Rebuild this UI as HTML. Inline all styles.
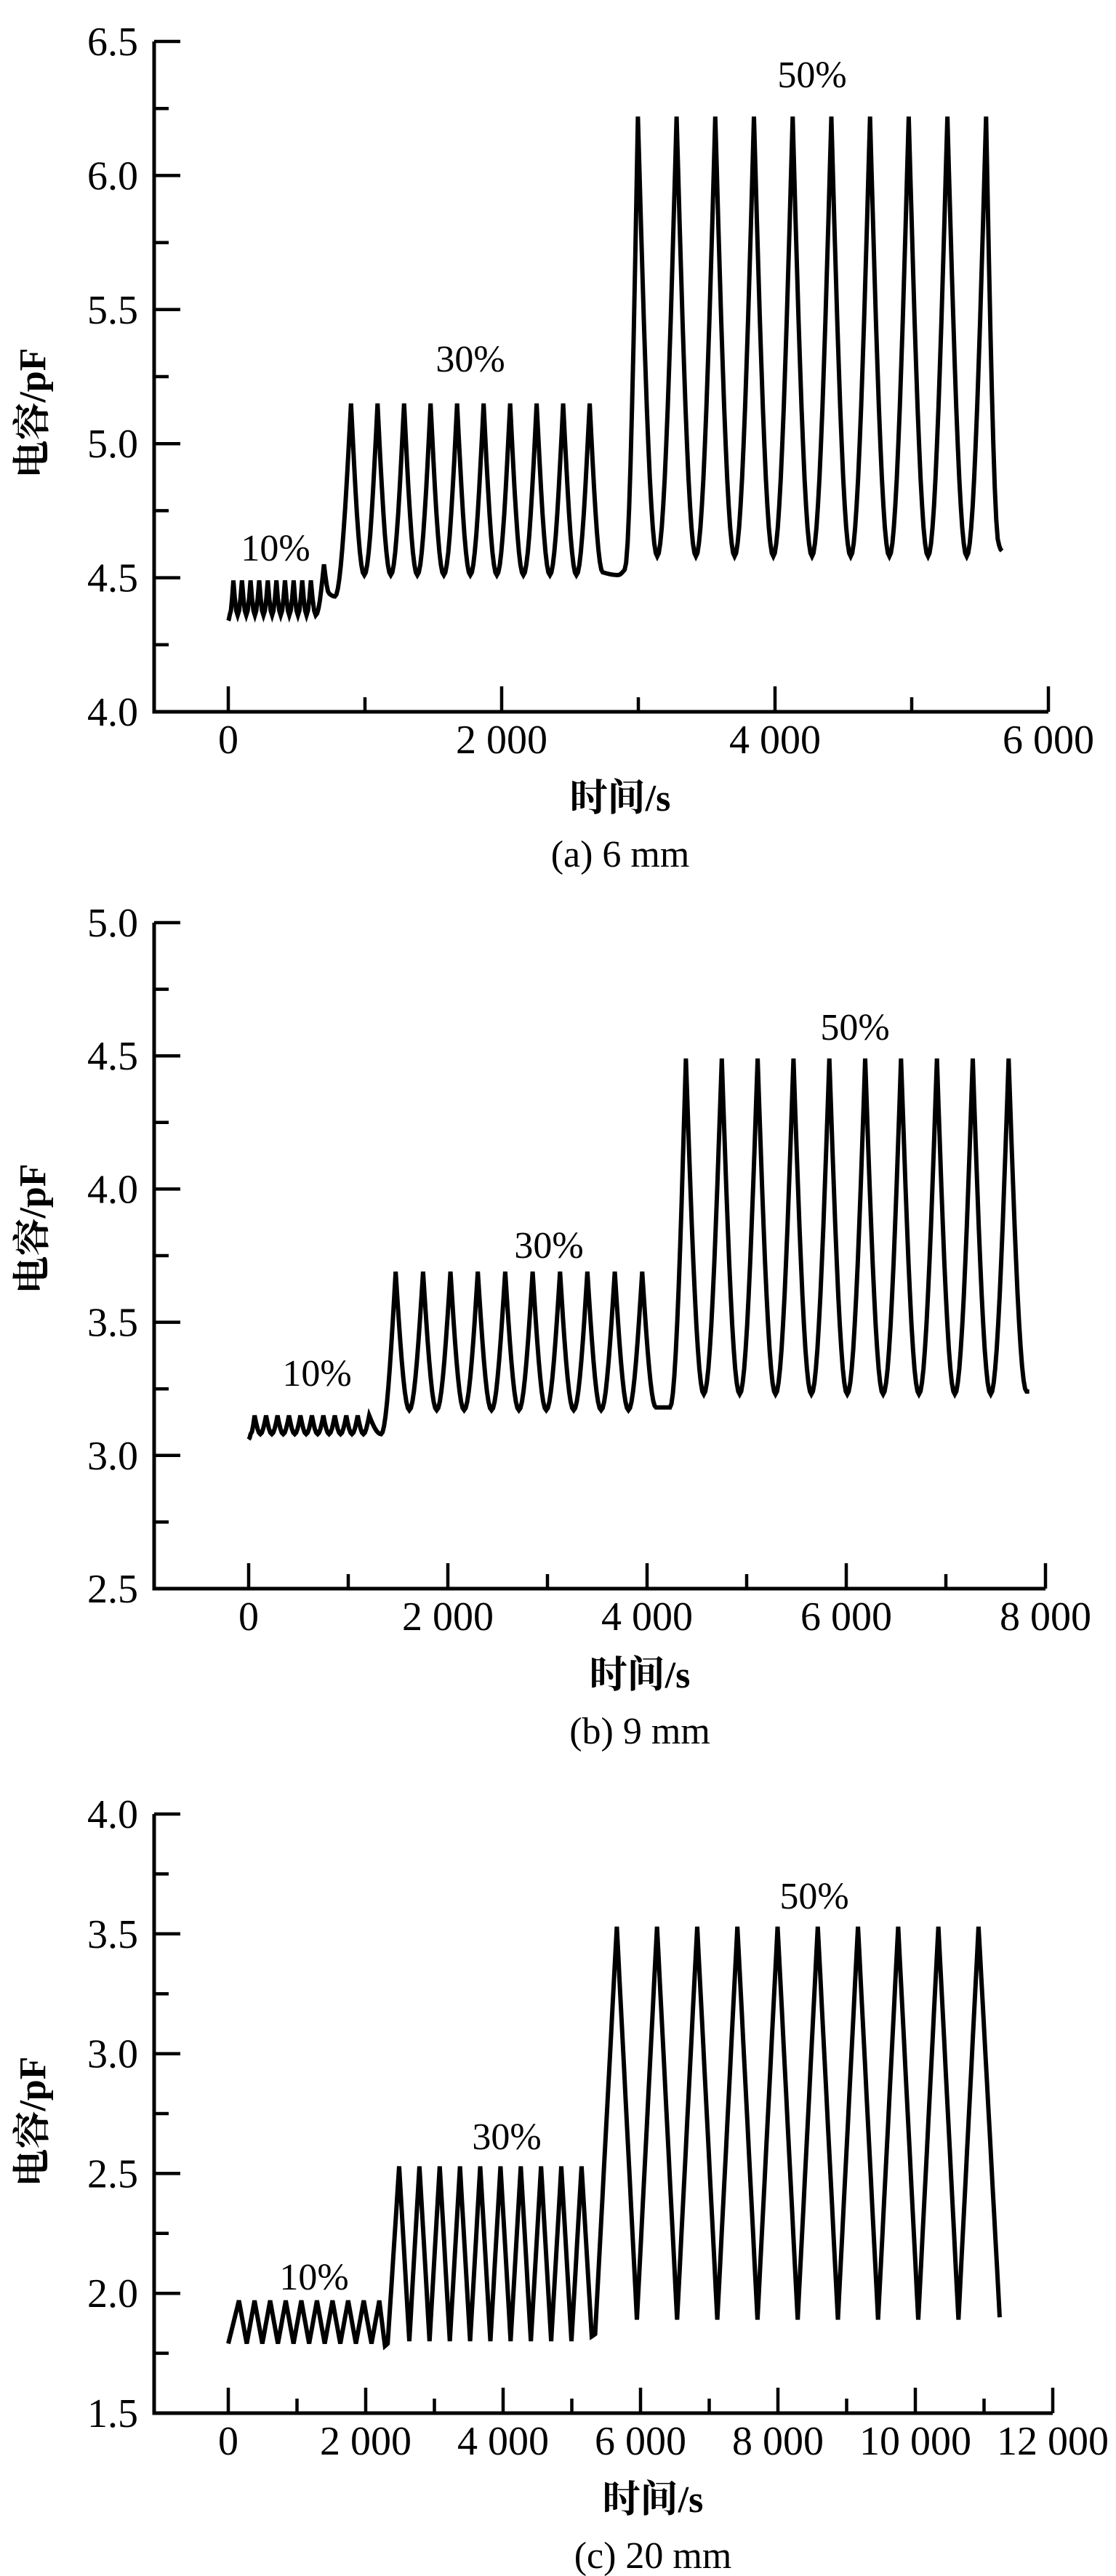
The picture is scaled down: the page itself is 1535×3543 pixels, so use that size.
<!DOCTYPE html>
<html><head><meta charset="utf-8">
<style>
html,body{margin:0;padding:0;background:#fff;}
svg{display:block;}
text{font-family:"Liberation Serif","Noto Serif CJK SC",serif;fill:#000;}
.cj{font-family:"Liberation Serif","Noto Serif CJK SC","Noto Sans CJK SC",serif;font-weight:bold;}
</style></head>
<body>
<svg id="s" width="1535" height="3543" viewBox="0 0 1535 3543" xmlns="http://www.w3.org/2000/svg"></svg>
<script>
var svg=document.getElementById('s');var out='';
function fmt(n){var s=String(n);if(n>=1000){var a=s.slice(0,s.length-3),b=s.slice(-3);return a+' '+b;}return s;}
function ease(s,p){return p==0?(1-Math.cos(s*Math.PI/2)):Math.pow(s,p);}
function panel(P){
  var X=function(t){return P.x0+t*P.xs/1000;};
  var Y=function(v){return P.yb-(v-P.ymin)*P.ys;};
  var L=212, B=P.yb, R=X(P.xmax), T=Y(P.ymaxv);
  out+='<path d="M'+L+' '+T+' L'+L+' '+B+' L'+R+' '+B+'" fill="none" stroke="#000" stroke-width="5"/>';
  for(var v=P.ymin;v<=P.ymaxv+1e-6;v+=0.25){
    var y=Y(v),maj=Math.abs(v*2-Math.round(v*2))<1e-6;
    out+='<line x1="'+L+'" y1="'+y+'" x2="'+(L+(maj?36:20))+'" y2="'+y+'" stroke="#000" stroke-width="4.5"/>';
    if(maj) out+='<text x="190" y="'+(y+19)+'" font-size="56" text-anchor="end">'+v.toFixed(1)+'</text>';
  }
  for(var t=0;t<=P.xmax;t+=1000){
    var x=X(t),maj=(t%2000==0);
    out+='<line x1="'+x+'" y1="'+B+'" x2="'+x+'" y2="'+(B-(maj?35:20))+'" stroke="#000" stroke-width="4.5"/>';
    if(maj) out+='<text x="'+x+'" y="'+(B+57)+'" font-size="56" text-anchor="middle">'+fmt(t)+'</text>';
  }
  var V=P.v,d='M'+X(V[0][0]).toFixed(1)+' '+Y(V[0][1]).toFixed(1);
  for(var i=1;i<V.length;i++){
    var a=V[i-1],b=V[i];var n=Math.max(2,Math.round((X(b[0])-X(a[0]))/2));
    for(var k=1;k<=n;k++){var s=k/n,v;
      if(b[1]>a[1]) v=a[1]+(b[1]-a[1])*ease(s,P.p);
      else v=b[1]+(a[1]-b[1])*ease(1-s,P.p);
      d+=' L'+X(a[0]+(b[0]-a[0])*s).toFixed(1)+' '+Y(v).toFixed(1);}
  }
  out+='<path d="'+d+'" fill="none" stroke="#000" stroke-width="6" stroke-linejoin="miter"/>';
  P.ann.forEach(function(a){out+='<text x="'+a[0]+'" y="'+a[1]+'" font-size="52" text-anchor="middle">'+a[2]+'</text>';});
  out+='<text class="cj" transform="translate('+P.ylx+','+P.yly+') rotate(-90)" font-size="52" text-anchor="middle">电容/pF</text>';
  out+='<text class="cj" x="'+P.xlx+'" y="'+(B+136)+'" font-size="52" text-anchor="middle">时间/s</text>';
  out+='<text x="'+P.xlx+'" y="'+(B+213)+'" font-size="52" text-anchor="middle">'+P.cap+'</text>';
}
function osc(v,peaks,hi,lo){peaks.forEach(function(tp,i){if(i>0)v.push([(peaks[i-1]+tp)/2,lo]);v.push([tp,hi]);});}
function seq(s,p,n){var r=[];for(var k=0;k<n;k++)r.push(s+p*k);return r;}
var va=[[0,4.34],[10,4.36]];osc(va,seq(37,63,10),4.49,4.36);
va.push([640,4.36],[700,4.55],[740,4.44],[780,4.43]);
osc(va,seq(898,194,10),5.15,4.51);va.push([2740,4.52],[2850,4.51],[2900,4.53]);
osc(va,seq(2997,283,10),6.22,4.58);va.push([5640,4.62],[5660,4.60]);
panel({x0:314,xs:188,xmax:6000,yb:979,ymin:4.0,ymaxv:6.5,ys:368.8,v:va,p:0,
 ann:[[379,771,'10%'],[647,511,'30%'],[1117,120,'50%']],ylx:62,yly:568,xlx:853,cap:'(a) 6 mm'});
var vb=[[0,3.06],[20,3.08]];osc(vb,seq(60,115,11),3.15,3.08);vb.push([1330,3.08]);
osc(vb,seq(1476,275,10),3.69,3.17);vb.push([4090,3.18],[4230,3.18]);
osc(vb,seq(4390,360,10),4.49,3.23);vb.push([7810,3.24],[7837,3.24]);
panel({x0:342,xs:137,xmax:8000,yb:2185,ymin:2.5,ymaxv:5.0,ys:366.4,v:vb,p:0,
 ann:[[436,1906,'10%'],[755,1730,'30%'],[1176,1430,'50%']],ylx:62,yly:1690,xlx:880,cap:'(b) 9 mm'});
var vc=[[0,1.79]];osc(vc,seq(155,227,10),1.97,1.79);vc.push([2280,1.78],[2320,1.79]);
osc(vc,seq(2487,295,10),2.53,1.80);vc.push([5290,1.82],[5340,1.83]);
osc(vc,seq(5655,585,10),3.53,1.89);vc.push([11228,1.90]);
panel({x0:314,xs:94.5,xmax:12000,yb:3319,ymin:1.5,ymaxv:4.0,ys:329.6,v:vc,p:1.0,
 ann:[[432,3149,'10%'],[697,2956,'30%'],[1120,2625,'50%']],ylx:62,yly:2918,xlx:898,cap:'(c) 20 mm'});
svg.innerHTML=out;
</script>
</body></html>
